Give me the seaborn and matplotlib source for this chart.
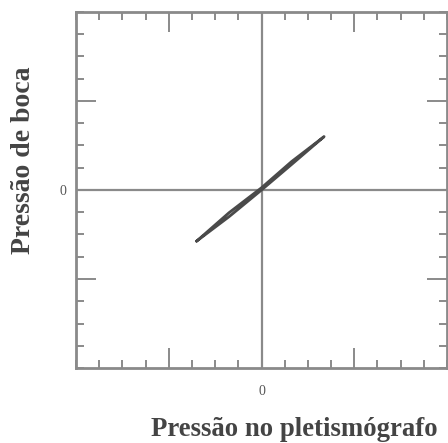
import matplotlib
matplotlib.use("Agg")
import matplotlib.pyplot as plt
import seaborn as sns
import pandas as pd
from matplotlib.ticker import MultipleLocator, FixedLocator

# Data (pressure loop, arbitrary units)
pleth_pressure = [-2.8, -1.4, 0.0, 1.3, 2.7, 1.3, 0.0, -1.4, -2.8]
mouth_pressure = [-2.3, -1.2, 0.0, 1.15, 2.4, 1.28, 0.1, -1.02, -2.3]
x_label = "Pressão no pletismógrafo"
y_label = "Pressão de boca"
tick_labels = ["", "0", ""]
major_ticks = [-4, 0, 4]

sns.set_theme(style="white")
plt.rcParams['font.family'] = ['Liberation Serif', 'DejaVu Serif']

fig = plt.figure(figsize=(4.48, 4.43), dpi=100)
ax = fig.add_axes([76/448, 1-368/443, (447-76)/448, (368-12)/443])

df = pd.DataFrame({"x": pleth_pressure, "y": mouth_pressure})
ax.axhline(0, color="#8a8a8a", lw=1.6, zorder=1)
ax.axvline(0, color="#8a8a8a", lw=1.6, zorder=1)
sns.lineplot(data=df, x="x", y="y", sort=False, estimator=None, ax=ax,
             color="#4a4a4a", lw=2.0, zorder=3)

ax.set_xlim(-8, 8)
ax.set_ylim(-8, 8)
ax.xaxis.set_major_locator(FixedLocator(major_ticks))
ax.yaxis.set_major_locator(FixedLocator(major_ticks))
ax.xaxis.set_minor_locator(MultipleLocator(1))
ax.yaxis.set_minor_locator(MultipleLocator(1))
ax.set_xticklabels(tick_labels)
ax.set_yticklabels(tick_labels)
ax.tick_params(which="both", direction="in", top=True, right=True,
               bottom=True, left=True, color="#8a8a8a", width=1.4,
               labelcolor="#555555", labelsize=10)
ax.tick_params(which="major", length=14.5)
ax.tick_params(which="minor", length=6)
ax.tick_params(axis="x", which="major", pad=12)
ax.tick_params(axis="y", which="major", pad=7)
for s in ax.spines.values():
    s.set_color("#8a8a8a")
    s.set_linewidth(2.0)
ax.set_xlabel("")
ax.set_ylabel("")

fig.text(151/448, 1-430/443, x_label, ha="left", va="center",
         fontsize=19.3, fontweight="bold", color="#444444")
fig.text(23/448, 1-160/443, y_label, ha="center", va="center",
         rotation=90, fontsize=20, fontweight="bold", color="#444444")

fig.savefig("out.png", dpi=100)
